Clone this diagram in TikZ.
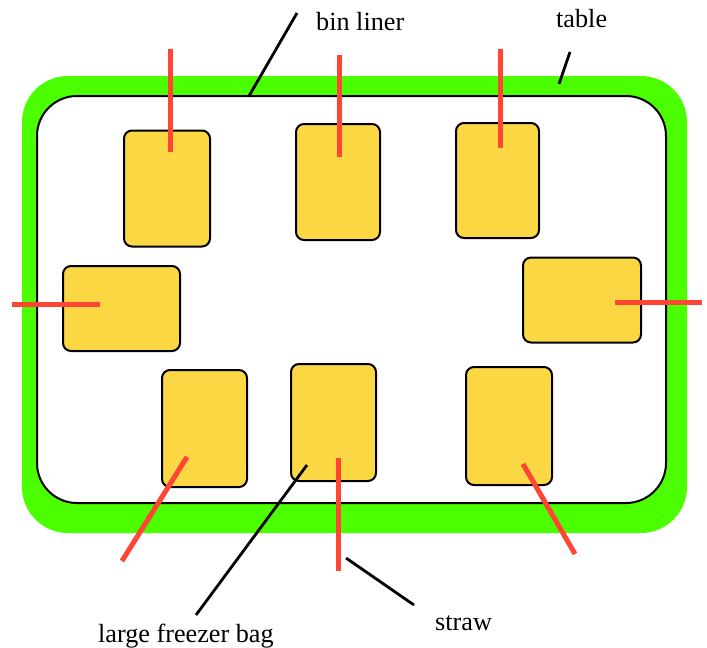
\documentclass[tikz,border=0pt]{standalone}
\usepackage{fontspec}
\setmainfont{Liberation Serif}
\definecolor{tablegreen}{RGB}{76,255,0}
\definecolor{bagyellow}{RGB}{251,216,67}
\definecolor{strawred}{RGB}{255,69,51}
\begin{document}
\begin{tikzpicture}[x=1pt,y=-1pt,
  bag/.style={draw=black,line width=2pt,fill=bagyellow,rounded corners=8pt,inner sep=0pt},
  strawline/.style={draw=strawred,line width=5pt},
  leader/.style={draw=black,line width=2.8pt},
  lbl/.style={anchor=base west,inner sep=0pt,font=\fontsize{26.2}{30}\selectfont}]
\useasboundingbox (0,0) rectangle (707,648);
\fill[white] (0,0) rectangle (707,648);
% table and bin liner
\fill[tablegreen,rounded corners=46pt] (22,76) rectangle (687,533);
\draw[fill=white,line width=2pt,rounded corners=40pt] (37,96) rectangle (666,503);
% bags
\node[bag,minimum width=86pt,minimum height=116pt] (b1) at (167,188.5) {};
\node[bag,minimum width=84pt,minimum height=116pt] (b2) at (338,182) {};
\node[bag,minimum width=83pt,minimum height=115pt] (b3) at (497.5,180.5) {};
\node[bag,minimum width=117pt,minimum height=85pt] (b4) at (121.5,308.5) {};
\node[bag,minimum width=118pt,minimum height=85pt] (b5) at (582,300) {};
\node[bag,minimum width=85pt,minimum height=117pt] (b6) at (204.5,428.5) {};
\node[bag,minimum width=85pt,minimum height=117pt] (b7) at (333.5,422.5) {};
\node[bag,minimum width=86pt,minimum height=118pt] (b8) at (509,426) {};
% straws
\coordinate (s1a) at (170,49);  \coordinate (s1b) at (170,152);
\coordinate (s2a) at (339,55);  \coordinate (s2b) at (339,157);
\coordinate (s3a) at (500,49);  \coordinate (s3b) at (500,148);
\coordinate (s4a) at (12,304);  \coordinate (s4b) at (100,304);
\coordinate (s5a) at (615,302); \coordinate (s5b) at (702,302);
\coordinate (s6a) at (187,457); \coordinate (s6b) at (122,561);
\coordinate (s7a) at (338,458); \coordinate (s7b) at (338,571);
\coordinate (s8a) at (523,464); \coordinate (s8b) at (575,554);
\foreach \i in {1,...,8} {\path[strawline] (s\i a) -- (s\i b);}
% labels
\node[lbl] (tbin) at (316,30) {bin liner};
\node[lbl] (ttable) at (556,27) {table};
\node[lbl] (tbag) at (98,642) {large freezer bag};
\node[lbl] (tstraw) at (435,630) {straw};
% leaders
\coordinate (lbinA) at (297,13);  \coordinate (lbinB) at (249,96);
\coordinate (ltabA) at (570,52);  \coordinate (ltabB) at (559,84);
\coordinate (lbagA) at (307,465); \coordinate (lbagB) at (196,615);
\coordinate (lstA) at (346,558);  \coordinate (lstB) at (414,605);
\path[leader] (lbinA) -- (lbinB);
\path[leader] (ltabA) -- (ltabB);
\path[leader] (lbagA) -- (lbagB);
\path[leader] (lstA) -- (lstB);
\end{tikzpicture}
\end{document}
